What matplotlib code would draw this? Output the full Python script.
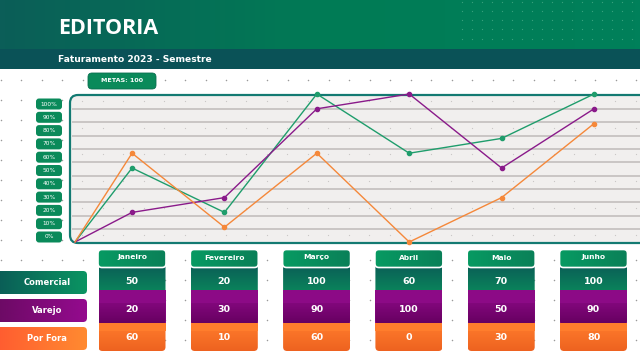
import numpy as np
import matplotlib
matplotlib.use('Agg')
import matplotlib.pyplot as plt
from matplotlib.patches import FancyBboxPatch, Rectangle
from matplotlib.colors import LinearSegmentedColormap

# data
months = ['Janeiro', 'Fevereiro', 'Março', 'Abril', 'Maio', 'Junho']
series = ['Comercial', 'Varejo', 'Por Fora']
comercial = [50, 20, 100, 60, 70, 100]
varejo = [20, 30, 90, 100, 50, 90]
por_fora = [60, 10, 60, 0, 30, 80]
start_value = 0
y_ticks = [100, 90, 80, 70, 60, 50, 40, 30, 20, 10, 0]
meta = 100

line_colors = ['#1f9d6c', '#8a1a8a', '#f5883a']
row_grads = [('#0b5a56', '#0a8a5c'), ('#8c0a86', '#660060'), ('#ff7d2c', '#ee6220')]
label_grads = [('#0b5a56', '#0a9462'), ('#6a0a62', '#940a8e'), ('#ff5a30', '#ff8a30')]

W, H = 640, 360
fig = plt.figure(figsize=(6.4, 3.6), dpi=100)
bg = fig.add_axes([0, 0, 1, 1])
bg.set_xlim(0, W)
bg.set_ylim(H, 0)
bg.axis('off')


def grad_box(x, y, w, h, c1, c2, vertical=True, r=4, z=2, ec='none', lw=0):
    patch = FancyBboxPatch((x + r, y + r), w - 2 * r, h - 2 * r,
                           boxstyle='round,pad=%g' % r, fc='none', ec=ec, lw=lw, zorder=z + 0.1)
    bg.add_patch(patch)
    cmap = LinearSegmentedColormap.from_list('g', [c1, c2])
    g = np.linspace(0, 1, 64)
    g = g.reshape(-1, 1) if vertical else g.reshape(1, -1)
    im = bg.imshow(g, cmap=cmap, extent=(x, x + w, y + h, y), aspect='auto', zorder=z,
                   interpolation='bilinear')
    im.set_clip_path(patch)
    return patch


# background dots
dx = np.arange(0.7, W, 20.5)
dy = np.arange(80, H, 20)
gx, gy = np.meshgrid(dx, dy)
bg.scatter(gx.ravel(), gy.ravel(), s=1.2, c='#9a9a9a', lw=0, zorder=0)

# header
hg = np.linspace(0, 1, 128).reshape(1, -1)
bg.imshow(hg, cmap=LinearSegmentedColormap.from_list('h', ['#0b5e58', '#017b55', '#00805a']),
          extent=(0, W, 49, 0), aspect='auto', zorder=1)
bg.add_patch(Rectangle((0, 49), W, 20, fc='#0a5257', ec='none', zorder=1))
hx, hy = np.meshgrid(np.arange(462, W, 10), np.arange(1.5, 46, 9.3))
bg.scatter(hx.ravel(), hy.ravel(), s=0.8, c='#5fb896', lw=0, alpha=0.6, zorder=1.5)
bg.text(58, 28, 'EDITORIA', family='Open Sans', weight='bold', fontsize=15.5,
        color='white', va='center', ha='left', zorder=3)
bg.text(58, 59, 'Faturamento 2023 - Semestre', family='DejaVu Sans', weight='bold',
        fontsize=6.6, color='white', va='center', ha='left', zorder=3)

# metas pill
bg.add_patch(FancyBboxPatch((92, 77), 60, 8, boxstyle='round,pad=4', fc='#0a8a5a',
                            ec='#0a6e50', lw=0.6, zorder=3))
bg.text(122, 81, 'METAS: %d' % meta, family='DejaVu Sans', weight='bold', fontsize=4.6,
        color='white', ha='center', va='center', zorder=4)

# chart box
bg.add_patch(FancyBboxPatch((78, 103), 600, 132, boxstyle='round,pad=8', fc='#f1efee',
                            ec='#137a72', lw=1.6, zorder=1))
for k in range(10):
    yy = 109 + 13.35 * k
    bg.plot([72, W], [yy, yy], color='#c6c2c1', lw=1.3, zorder=1.2, solid_capstyle='butt')
cx, cy = np.meshgrid(np.arange(82, W, 20.5), np.arange(101, 240, 26.7))
bg.scatter(cx.ravel(), cy.ravel(), s=0.8, c='#c9c6c5', lw=0, zorder=1.1)

# y label pills
for k, t in enumerate(y_ticks):
    yy = 104 + 13.3 * k
    bg.add_patch(FancyBboxPatch((39, yy - 2.5), 20, 5, boxstyle='round,pad=3', fc='#0a8a5a',
                                ec='none', zorder=3))
    bg.text(49, yy, '%d%%' % t, family='DejaVu Sans', fontsize=4.2, color='white',
            ha='center', va='center', zorder=4)

# line chart
col0, colstep = 132, 92.3
x_start = -(col0 - 75) / colstep
ax = fig.add_axes([75 / W, (H - 242) / H, (594 - 75) / W, 148 / H], zorder=5)
ax.set_facecolor('none')
ax.axis('off')
ax.set_xlim(x_start, len(months) - 1)
ax.set_ylim(0, 100)
xs = [x_start] + list(range(len(months)))
for vals, c in zip([comercial, varejo, por_fora], line_colors):
    ax.plot(xs, [start_value] + vals, color=c, lw=1.0, clip_on=False)
    ax.plot(range(len(months)), vals, 'o', color=c, ms=3, clip_on=False)

# table
cw = 67
for i, m in enumerate(months):
    xc = col0 + colstep * i
    x0 = xc - cw / 2
    grad_box(x0, 262, cw, 34, *row_grads[0], z=2)
    bg.add_patch(Rectangle((x0, 290), cw, 33, fc=row_grads[1][0], ec='none', zorder=2.2))
    grad_box(x0, 295, cw, 29, *row_grads[1], z=2.3)
    bg.add_patch(Rectangle((x0, 295), cw, 8, fc=row_grads[1][0], ec='none', zorder=2.35))
    grad_box(x0, 323, cw, 28, *row_grads[2], z=2.4)
    bg.add_patch(Rectangle((x0, 323), cw, 8, fc=row_grads[2][0], ec='none', zorder=2.45))
    grad_box(x0 - 0.5, 249.5, cw + 1, 18, '#079a62', '#0a8058', vertical=False, r=4, z=3,
             ec='white', lw=1.2)
    bg.text(xc, 257.5, m, family='DejaVu Sans', weight='bold', fontsize=5.4, color='white',
            ha='center', va='center', zorder=4)
    for v, yy in zip([comercial[i], varejo[i], por_fora[i]], [281, 309, 337]):
        bg.text(xc, yy, str(v), family='DejaVu Sans', weight='bold', fontsize=6.8,
                color='white', ha='center', va='center', zorder=4)

# row labels
for j, (s, yy) in enumerate(zip(series, [271, 299, 327])):
    grad_box(-8, yy, 95, 23, *label_grads[j], vertical=False, r=4, z=2)
    bg.text(47, yy + 11.5, s, family='DejaVu Sans', weight='bold', fontsize=6.0,
            color='white', ha='center', va='center', zorder=4)

fig.savefig('out.png', dpi=100)
